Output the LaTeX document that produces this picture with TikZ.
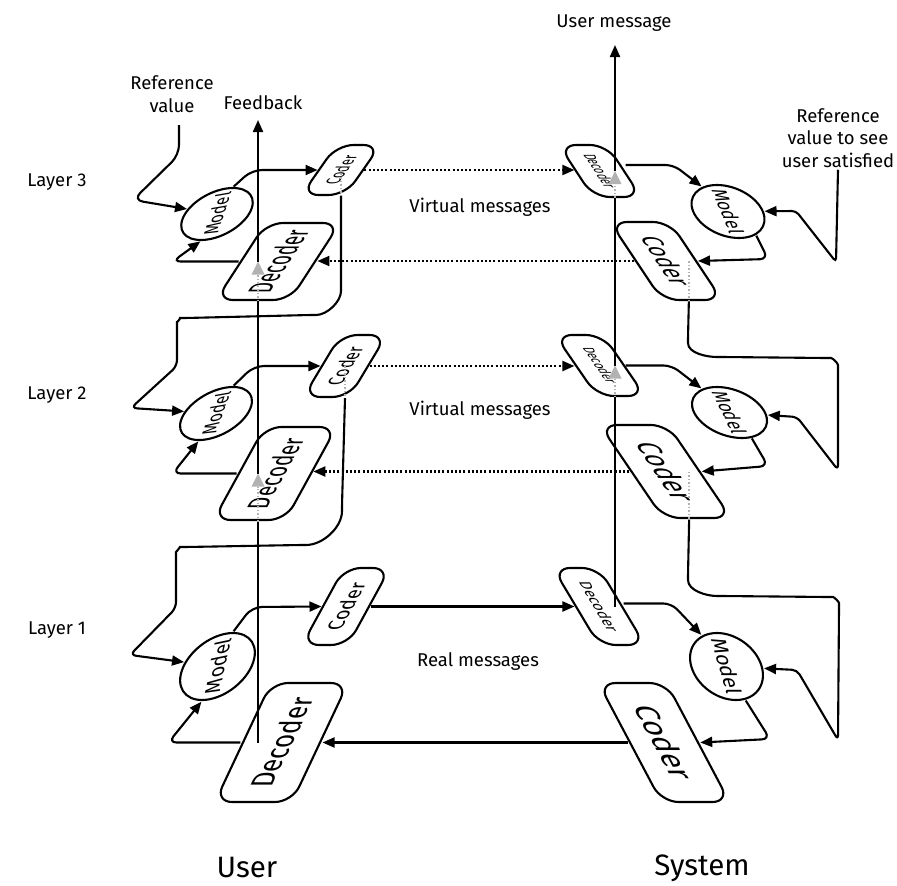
\documentclass[tikz,border=0pt]{standalone}
\usepackage{fontspec}
\setmainfont{Fira Sans}
\usetikzlibrary{arrows.meta,calc}
\tikzset{
  conn/.style={line width=2.1pt},
  arr/.style={conn, -{Triangle[length=12pt,width=10pt]}},
  vmsg/.style={line width=2.1pt, dash pattern=on 2pt off 2.2pt, -{Triangle[length=12pt,width=10pt]}},
  gdot/.style={line width=1.6pt, draw=black!30, dash pattern=on 1.5pt off 2pt},
  garr/.style={gdot, -{Triangle[length=13pt,width=13pt,fill=black!30,line width=0pt]}},
  lbl/.style={font=\fontsize{18.5}{22.5}\selectfont, align=center, inner sep=2pt},
  big/.style={font=\fontsize{29.5}{33}\selectfont},
  box/.style={draw, line width=2.1pt, rounded corners=17pt, minimum width=64pt, minimum height=32pt, inner sep=0pt},
  oval/.style={draw, circle, line width=2.1pt, minimum size=40pt, inner sep=0pt, font=\fontsize{12}{12}\selectfont}
}
% name, cx, cy(image), Ax, Ay, Bx, text, fontsize
\newcommand{\rbox}[8]{%
  \pgfmathsetmacro\shA{#4/32}\pgfmathsetmacro\shB{#5/32}%
  \pgfmathsetmacro\shC{#6/16}%
  \begin{scope}[cm={\shA,\shB,\shC,0,(#2,-#3)},transform shape]
    \node[box, font=\fontsize{#8}{#8}\selectfont] (#1) at (0,0) {#7};
  \end{scope}}
% name, cx, cy(image), Ax, Ay, Bx, By
\newcommand{\ebox}[7]{%
  \pgfmathsetmacro\shA{#4/20}\pgfmathsetmacro\shB{#5/20}%
  \pgfmathsetmacro\shC{#6/20}\pgfmathsetmacro\shD{#7/20}%
  \begin{scope}[cm={\shA,\shB,\shC,\shD,(#2,-#3)},transform shape]
    \node[oval] (#1) at (0,0) {Model};
  \end{scope}}
\begin{document}
\begin{tikzpicture}[x=1pt,y=1pt]
\useasboundingbox (0,0) rectangle (897,-886);

% ---------- shapes ----------
\rbox{cL3}{341}{170}{17.5}{25}{-22}{Coder}{14}
\rbox{cL2}{345}{366}{18.6}{31}{-23}{Coder}{15}
\rbox{cL1}{346}{606.5}{21}{38.5}{-23}{Coder}{15}
\rbox{dL3}{278}{261.5}{25}{38.5}{-37}{Decoder}{14}
\rbox{dL2}{275}{473.5}{25.5}{46.5}{-36}{Decoder}{13}
\rbox{dL1}{281.5}{742.5}{28}{59.5}{-38.5}{Decoder}{13}
\rbox{dR3}{600}{171}{17}{-26}{24}{Decoder}{11}
\rbox{dR2}{600}{365.5}{21}{-30.5}{24}{Decoder}{10}
\rbox{dR1}{599}{606.5}{23}{-38.5}{23}{Decoder}{11}
\rbox{cR3}{666}{261}{26}{-39}{30}{Coder}{15}
\rbox{cR2}{665.5}{471.5}{31.6}{-46.5}{34}{Coder}{15}
\rbox{cR1}{664}{742.5}{31.5}{-59.5}{34}{Coder}{15}
\ebox{mL3}{217}{214}{8.2}{25.3}{-34.8}{-6}
\ebox{mL2}{216}{413.5}{9.25}{25.8}{-34.75}{-6.1}
\ebox{mL1}{217.5}{666.5}{7.26}{32.6}{-36.65}{-7.7}
\ebox{mR3}{728}{211.5}{11}{-26.5}{34.8}{0}
\ebox{mR2}{729.5}{412.5}{12.5}{-25.5}{35.4}{0}
\ebox{mR1}{726.5}{666.5}{9.5}{-33.5}{35.2}{0}

% ---------- labels ----------
\node[lbl] (refL) at (172,-94) {Reference\\value};
\node[lbl] (fbL) at (263,-103) {Feedback};
\node[lbl] (umL) at (614,-23) {User message};
\node[lbl] (refR) at (838,-138) {Reference\\value to see\\user satisfied};
\node[lbl] (lay3) at (57,-182) {Layer 3};
\node[lbl] (lay2) at (57,-395) {Layer 2};
\node[lbl] (lay1) at (57,-630) {Layer 1};
\node[lbl] (vm3) at (480,-207) {Virtual messages};
\node[lbl] (vm2) at (480,-410) {Virtual messages};
\node[lbl] (rm1) at (478,-662) {Real messages};
\node[big] (user) at (247,-868) {User};
\node[big] (sys) at (702,-868) {System};

\coordinate (rvL) at (179,-125);
\coordinate (fbTop) at (258,-120);
\coordinate (umTop) at (615,-45);

% ---------- feedback line (user side) ----------
\draw[conn] (fbTop |- dL1.center) -- (fbTop |- dL2.west);
\draw[garr] (fbTop |- dL2.west) -- (fbTop |- dL2.center);
\draw[conn] (fbTop |- dL2.center) -- (fbTop |- dL3.west);
\draw[garr] (fbTop |- dL3.west) -- (fbTop |- dL3.center);
\draw[arr] (fbTop |- dL3.center) -- (fbTop);

% ---------- user message line (system side) ----------
\draw[conn] (umTop |- dR1.center) -- (umTop |- dR2.east);
\draw[garr] (umTop |- dR2.east) -- (umTop |- dR2.center);
\draw[conn] (umTop |- dR2.center) -- (umTop |- dR3.east);
\draw[garr] (umTop |- dR3.east) -- (umTop |- dR3.center);
\draw[arr] (umTop |- dR3.center) -- (umTop);

% ---------- layer 3 ----------
\draw[arr, rounded corners=10pt] (rvL) -- (179,-155) -- (133,-200) -- (mL3);
\draw[arr, rounded corners=10pt] (mL3.-13) -- (252,-170) -- (cL3.north);
\draw[arr, rounded corners=8pt] (dL3.north) -- +(-66,0) -- (mL3.167);
\draw[vmsg] (cL3.south) -- (cL3.south -| dR3.south);
\draw[vmsg] (cR3.south) -- (cR3.south -| dL3.south);
\draw[arr, rounded corners=8pt] ([yshift=6pt]dR3.north) -- +(48,0) -- (mR3.206);
\draw[arr, rounded corners=8pt] (mR3.30) -- (768,-259) -- (cR3.north);
\draw[arr, rounded corners=4pt] (refR.south) -- (836,-262) -- (796,-211) -- (mR3);

% ---------- layer 3 -> layer 2 ----------
\draw[gdot] (cL3.center) -- (cL3.center |- cL3.west);
\draw[arr, rounded corners=6pt] (cL3.center |- cL3.west) -- (341,-285) to[out=-90,in=0] (310,-315) -- (186,-318) to[out=180,in=90] (177,-328) -- (177,-366) -- (131,-408) -- (mL2);
\draw[gdot] ([xshift=-4pt]cR3.east |- cR3.center) -- ([xshift=-4pt]cR3.east);
\draw[arr, rounded corners=5pt] ([xshift=-4pt]cR3.east) -- (688,-338) to[out=-90,in=180] (722,-357) -- (826,-358) to[out=0,in=90] (838,-370) -- (838,-470) -- (797,-417) -- (mR2);

% ---------- layer 2 ----------
\draw[arr, rounded corners=10pt] (mL2.-13) -- (254,-366) -- (cL2.north);
\draw[arr, rounded corners=8pt] (dL2.north) -- +(-64,0) -- (mL2.167);
\draw[vmsg] (cL2.south) -- (cL2.south -| dR2.south);
\draw[vmsg] (cR2.south) -- (cR2.south -| dL2.south);
\draw[arr, rounded corners=8pt] (dR2.north) -- +(46,0) -- (mR2.206);
\draw[arr, rounded corners=8pt] (mR2.15) -- (768,-466) -- (cR2.north);

% ---------- layer 2 -> layer 1 ----------
\draw[gdot] (cL2.center) -- (cL2.center |- cL2.west);
\draw[arr, rounded corners=6pt] (cL2.center |- cL2.west) -- (342,-505) to[out=-90,in=0] (300,-545) -- (186,-547) to[out=180,in=90] (176,-558) -- (176,-608) -- (130,-655) -- (mL1);
\draw[gdot] ([xshift=-9pt]cR2.east |- cR2.center) -- ([xshift=-9pt]cR2.east);
\draw[arr, rounded corners=5pt] ([xshift=-9pt]cR2.east) -- (688,-575) to[out=-90,in=180] (722,-596) -- (828,-597) to[out=0,in=90] (839,-608) -- (838,-740) -- (797,-670) -- (mR1);

% ---------- layer 1 ----------
\draw[arr, rounded corners=10pt] (mL1.-13) -- (252,-607) -- (cL1.north);
\draw[arr, rounded corners=8pt] (dL1.north) -- +(-72,0) -- (mL1.167);
\draw[arr] (cL1.south) -- (cL1.south -| dR1.south);
\draw[arr] (cR1.south) -- (cR1.south -| dL1.south);
\draw[arr, rounded corners=8pt] ([yshift=3pt]dR1.north) -- +(48,0) -- (mR1.206);
\draw[arr, rounded corners=8pt] (mR1.15) -- (770,-739) -- (cR1.north);
\end{tikzpicture}
\end{document}
